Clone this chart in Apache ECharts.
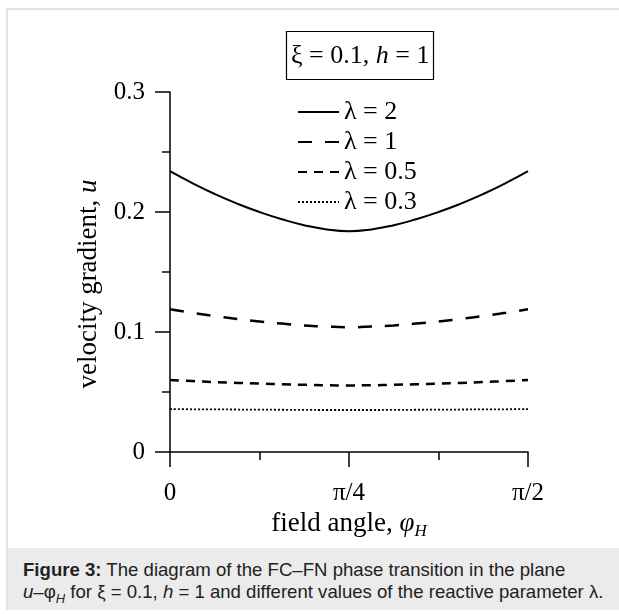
<!DOCTYPE html>
<html>
<head>
<meta charset="utf-8">
<script src="https://cdn.jsdelivr.net/npm/echarts@6/dist/echarts.min.js"></script>
<style>
    body { margin: 0; background: #fff; }
    #page { position: relative; width: 619px; height: 614px; overflow: hidden; }
    #frame { position: absolute; left: 6px; top: 8px; width: 640px; height: 602px; border: 2px solid #e2e2e2; box-sizing: border-box; }
    #chart { position: absolute; left: 0; top: 0; width: 619px; height: 548px; }
    #caption {
        position: absolute; left: 8px; top: 548px; width: 611px; height: 62px;
        background: #ebebeb; box-sizing: border-box; padding: 11px 0 0 15px;
        font-family: "Liberation Sans", Arial, sans-serif; font-size: 18.6px; line-height: 22px; color: #222;
        white-space: nowrap;
    }
    #caption sub { font-size: 13px; line-height: 0; }
</style>
</head>
<body>
<div id="page">
    <div id="frame"></div>
    <div id="chart"></div>
    <div id="caption"><b>Figure 3:</b> The diagram of the FC–FN phase transition in the plane<br><i>u</i>–φ<sub><i>H</i></sub> for ξ = 0.1, <i>h</i> = 1 and different values of the reactive parameter λ.</div>
</div>
<script>
// field angle in degrees (0 .. π/2), read every π/32
const angles = [0, 5.625, 11.25, 16.875, 22.5, 28.125, 33.75, 39.375, 45,
    50.625, 56.25, 61.875, 67.5, 73.125, 78.75, 84.375, 90];
const lambda2 = [0.234, 0.224, 0.215, 0.207, 0.200, 0.194, 0.189, 0.1855, 0.184,
    0.1855, 0.189, 0.194, 0.200, 0.207, 0.215, 0.224, 0.234];
const lambda1 = [0.119, 0.116, 0.1133, 0.1109, 0.1088, 0.107, 0.1055, 0.1045, 0.104,
    0.1045, 0.1055, 0.107, 0.1088, 0.1109, 0.1133, 0.116, 0.119];
const lambda05 = [0.060, 0.0591, 0.0583, 0.0576, 0.057, 0.0564, 0.056, 0.0556, 0.0555,
    0.0556, 0.056, 0.0564, 0.057, 0.0576, 0.0583, 0.0591, 0.060];
const lambda03 = [0.0358, 0.0356, 0.0355, 0.0354, 0.0353, 0.0352, 0.0351, 0.035, 0.035,
    0.035, 0.0351, 0.0352, 0.0353, 0.0354, 0.0355, 0.0356, 0.0358];
const seriesNames = ['λ = 2', 'λ = 1', 'λ = 0.5', 'λ = 0.3'];
const xTickValues = [0, 45, 90];
const xTickLabels = ['0', 'π/4', 'π/2'];
const yTickLabels = ['0', '0.1', '0.2', '0.3'];

const SERIF = '"Liberation Serif", "Times New Roman", serif';
const chart = echarts.init(document.getElementById('chart'));

function makeSeries(name, values, type, width) {
    return {
        name: name,
        type: 'line',
        data: angles.map((a, i) => [a, values[i]]),
        smooth: true,
        symbol: 'none',
        lineStyle: { color: '#000', width: width, type: type },
        itemStyle: { color: '#000' },
        emphasis: { disabled: true }
    };
}

const axisCommon = {
    axisLine: { show: true, lineStyle: { color: '#000', width: 1.5 } },
    axisTick: { show: true, inside: false, length: 15, lineStyle: { color: '#000', width: 1.5 } },
    minorTick: { show: true, splitNumber: 2, length: 8, lineStyle: { color: '#000', width: 1.5 } },
    splitLine: { show: false }
};

function nameStyle(pad) {
    return {
        fontFamily: SERIF, fontSize: 27, color: '#000', padding: pad,
        rich: {
            a: { fontFamily: SERIF, fontSize: 27, color: '#000' },
            i: { fontFamily: SERIF, fontSize: 27, fontStyle: 'italic', color: '#000' },
            s: { fontFamily: SERIF, fontSize: 17, fontStyle: 'italic', color: '#000', verticalAlign: 'bottom', padding: [14, 0, 0, 0] }
        }
    };
}

chart.setOption({
    animation: false,
    title: {
        text: '{a|ξ = 0.1, }{i|h}{a| = 1}',
        left: 286,
        top: 31,
        padding: [12, 4, 11, 5],
        borderColor: '#000',
        borderWidth: 1.2,
        textStyle: {
            fontWeight: 'normal',
            rich: {
                a: { fontFamily: SERIF, fontSize: 26, fontWeight: 'normal', color: '#000' },
                i: { fontFamily: SERIF, fontSize: 26, fontWeight: 'normal', fontStyle: 'italic', color: '#000' }
            }
        }
    },
    legend: {
        orient: 'vertical',
        left: 297,
        top: 99,
        padding: 0,
        itemWidth: 41,
        itemHeight: 14,
        itemGap: 4,
        selectedMode: false,
        data: seriesNames,
        itemStyle: { opacity: 0 },
        textStyle: { fontFamily: SERIF, fontSize: 26, color: '#000' }
    },
    grid: { left: 170, top: 92, right: 91, bottom: 96 },
    xAxis: Object.assign({}, axisCommon, {
        type: 'value',
        min: 0,
        max: 90,
        interval: 45,
        name: '{a|field angle, }{i|φ}{s|H}',
        nameLocation: 'middle',
        nameGap: 50,
        nameTextStyle: nameStyle(0),
        axisLabel: {
            margin: 29,
            fontFamily: SERIF, fontSize: 25, color: '#000',
            formatter: (v) => xTickLabels[xTickValues.indexOf(v)]
        }
    }),
    yAxis: Object.assign({}, axisCommon, {
        type: 'value',
        min: 0,
        max: 0.3,
        interval: 0.1,
        name: '{a|velocity gradient, }{i|u}',
        nameLocation: 'middle',
        nameGap: 41,
        nameTextStyle: nameStyle([0, 24, 0, 0]),
        axisLabel: {
            margin: 25,
            fontFamily: SERIF, fontSize: 25, color: '#000',
            formatter: (v) => yTickLabels[Math.round(v * 10)]
        }
    }),
    series: [
        makeSeries(seriesNames[0], lambda2, 'solid', 2),
        makeSeries(seriesNames[1], lambda1, [14, 13], 2.5),
        makeSeries(seriesNames[2], lambda05, [9, 7], 2.5),
        makeSeries(seriesNames[3], lambda03, [2, 2], 1.8)
    ]
});
</script>
</body>
</html>
